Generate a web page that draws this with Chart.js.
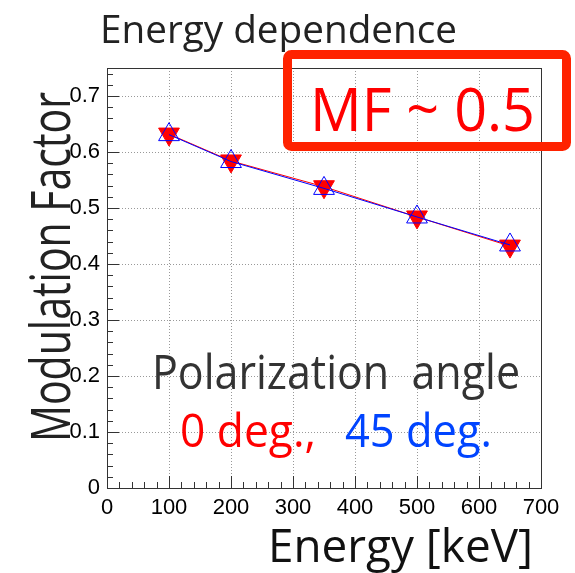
<!DOCTYPE html>
<html>
<head>
<meta charset="utf-8">
<script src="https://cdn.jsdelivr.net/npm/chart.js@4/dist/chart.umd.min.js"></script>
<style>
  html, body { margin: 0; padding: 0; background: #fff; }
  #wrap { width: 575px; height: 573px; }
</style>
</head>
<body>
<div id="wrap"><canvas id="mfChart" width="575" height="573"></canvas></div>
<script>
// data
const energies = [100, 200, 350, 500, 650];
const mf0deg = [0.632, 0.584, 0.538, 0.484, 0.432];
const mf45deg = [0.631, 0.583, 0.535, 0.484, 0.434];
const xTickValues = [0, 100, 200, 300, 400, 500, 600, 700];
const yTickValues = [0, 0.1, 0.2, 0.3, 0.4, 0.5, 0.6, 0.7];
const seriesLabels = ['0 deg.,', '45 deg.'];

const HAND = '"Comic Sans MS", "Open Sans", "DejaVu Sans", sans-serif';
const TICKFONT = '"Liberation Sans", Arial, sans-serif';

// draw a text stretched to a given width (left x, baseline y)
function fitText(ctx, text, x, y, size, color, width, rotate) {
    ctx.save();
    ctx.font = size + 'px ' + HAND;
    ctx.fillStyle = color;
    ctx.textAlign = 'left';
    ctx.textBaseline = 'alphabetic';
    const w = ctx.measureText(text).width;
    ctx.translate(x, y);
    if (rotate) ctx.rotate(-Math.PI / 2);
    ctx.scale(width / w, 1);
    ctx.fillText(text, 0, 0);
    ctx.restore();
}

// frame + inner ticks like ROOT
const frameAndTicks = {
    id: 'frameAndTicks',
    beforeDatasetsDraw(chart) {
        const { ctx, chartArea: a, scales: { x, y } } = chart;
        ctx.save();
        ctx.strokeStyle = '#333';
        ctx.lineWidth = 1;
        ctx.strokeRect(a.left + 0.5, a.top + 0.5, a.right - a.left, a.bottom - a.top);
        ctx.beginPath();
        for (let i = 0; i <= 37; i++) {
            const py = Math.round(y.getPixelForValue(i * 0.02)) + 0.5;
            const len = i % 5 === 0 ? 12 : 6;
            ctx.moveTo(a.left, py);
            ctx.lineTo(a.left + len, py);
        }
        for (let i = 0; i <= 35; i++) {
            const px = Math.round(x.getPixelForValue(i * 20)) + 0.5;
            const len = i % 5 === 0 ? 12 : 6;
            ctx.moveTo(px, a.bottom);
            ctx.lineTo(px, a.bottom - len);
        }
        ctx.stroke();
        ctx.restore();
    }
};

// titles and annotations
const labelsPlugin = {
    id: 'labelsPlugin',
    afterDraw(chart) {
        const ctx = chart.ctx;
        fitText(ctx, 'Energy dependence', 100, 43, 39, '#222', 357);
        fitText(ctx, 'Modulation Factor', 70, 442, 54, '#222', 350, true);
        fitText(ctx, 'Energy [keV]', 268, 562, 45, '#111', 265);
        fitText(ctx, 'Polarization  angle', 152, 389, 48, '#333', 368);
        fitText(ctx, seriesLabels[0], 180, 447, 46, '#ff0000', 136);
        fitText(ctx, seriesLabels[1], 345, 447, 46, '#0044ff', 147);

        // red box
        ctx.save();
        ctx.strokeStyle = '#ff2200';
        ctx.lineWidth = 9;
        ctx.beginPath();
        ctx.roundRect(287.5, 54.5, 279, 92, 4);
        ctx.stroke();
        ctx.restore();
        fitText(ctx, 'MF ~ 0.5', 310, 131, 60, '#ff0000', 225);
    }
};

const ctx = document.getElementById('mfChart');

new Chart(ctx, {
    type: 'line',
    data: {
        datasets: [
            {
                label: seriesLabels[0],
                data: energies.map((e, i) => ({ x: e, y: mf0deg[i] })),
                borderColor: '#ff0000',
                backgroundColor: '#ff0000',
                borderWidth: 1,
                pointStyle: 'triangle',
                rotation: 180,
                pointRadius: 12,
                pointBorderWidth: 1,
                order: 2
            },
            {
                label: seriesLabels[1],
                data: energies.map((e, i) => ({ x: e, y: mf45deg[i] })),
                borderColor: '#0000ff',
                backgroundColor: 'rgba(0,0,0,0)',
                borderWidth: 1,
                pointStyle: 'triangle',
                pointRadius: 12,
                pointBorderWidth: 1,
                order: 1
            }
        ]
    },
    options: {
        responsive: false,
        devicePixelRatio: 1,
        animation: false,
        layout: { padding: { top: 68, right: 34, left: 0, bottom: 0 } },
        plugins: {
            legend: { display: false },
            tooltip: { enabled: false },
            title: { display: false }
        },
        scales: {
            x: {
                type: 'linear',
                min: 0,
                max: 700,
                afterFit: scale => { scale.height = 85; },
                afterBuildTicks: scale => { scale.ticks = xTickValues.map(v => ({ value: v })); },
                grid: { color: '#999', lineWidth: 1, drawTicks: false },
                border: { display: false, dash: [1, 2] },
                ticks: {
                    padding: 7,
                    maxRotation: 0,
                    autoSkip: false,
                    color: '#000',
                    font: { family: TICKFONT, size: 22 },
                    callback: v => String(v)
                }
            },
            y: {
                type: 'linear',
                min: 0,
                max: 0.75,
                afterFit: scale => { scale.width = 107; },
                afterBuildTicks: scale => { scale.ticks = yTickValues.map(v => ({ value: v })); },
                grid: { color: '#999', lineWidth: 1, drawTicks: false },
                border: { display: false, dash: [1, 2] },
                ticks: {
                    padding: 7,
                    color: '#000',
                    font: { family: TICKFONT, size: 22 },
                    callback: v => (v === 0 ? '0' : v.toFixed(1))
                }
            }
        }
    },
    plugins: [frameAndTicks, labelsPlugin]
});
</script>
</body>
</html>
